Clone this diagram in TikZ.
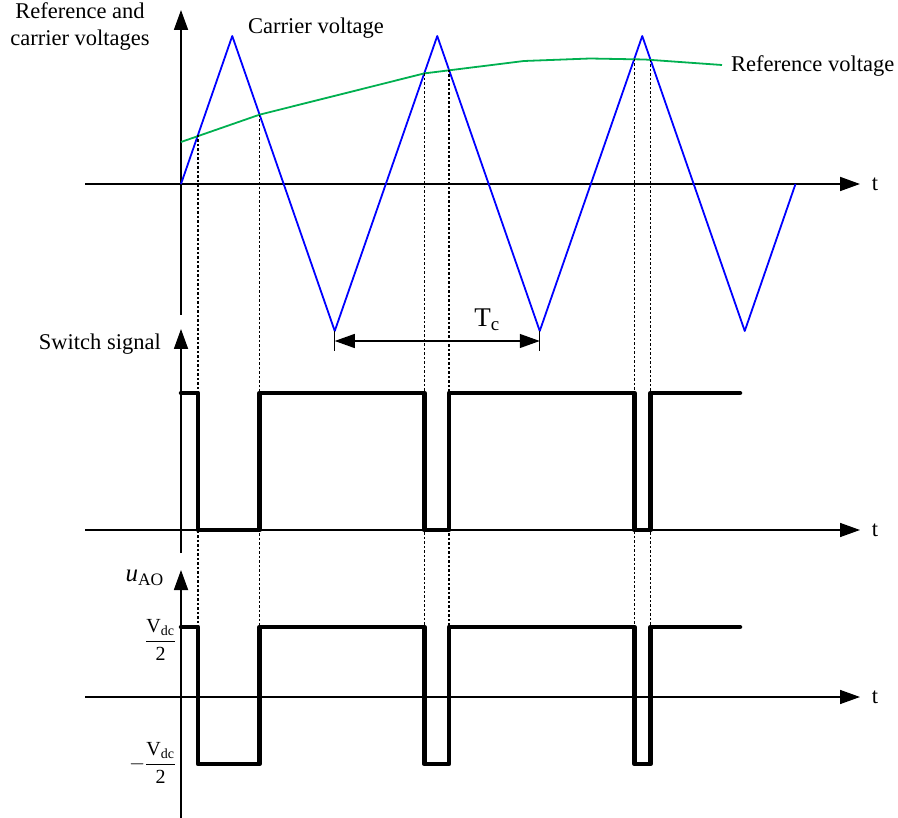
\documentclass[tikz,border=0pt]{standalone}
\usepackage{amsmath}
\usepackage{fontspec}
\setmainfont{Liberation Serif}
\usetikzlibrary{arrows.meta}
\definecolor{carrierblue}{HTML}{0000FF}
\definecolor{refgreen}{HTML}{00B050}
% switching instants: x / carrier value at that x
\def\switches{198/134.9, 259.5/114.7, 424.3/73.4, 449/69.9, 634.5/59.0, 650.5/59.8}

\begin{document}
\begin{tikzpicture}[x=1pt, y=-1pt, line join=round,
  lbl/.style={font=\fontsize{22.5}{27}\selectfont, inner sep=0pt},
  axis/.style={line width=1.8pt, -{Triangle[length=20pt, width=14pt]}},
  carrier/.style={carrierblue, line width=1.8pt},
  refline/.style={refgreen, line width=1.8pt},
  guide/.style={line width=1.5pt, dash pattern=on 2.5pt off 2pt},
  pulse/.style={line width=4.5pt, line cap=round}]
\useasboundingbox (0,0) rectangle (898,818);

% ---------------- axes ----------------
\draw[axis] (85,184) -- (860,184);
\draw[axis] (181,315) -- (181,10);
\draw[axis, line width=1.5pt] (85,530) -- (860,530);
\draw[axis] (181,553) -- (181,329);
\draw[axis, line width=1.5pt] (85,697) -- (860,697);
\draw[axis] (181,818) -- (181,570);

% ---------------- carrier and reference ----------------
\draw[carrier] (181,184) -- (232.25,36) -- (334.75,331) -- (437.25,36) -- (539.75,331)
  -- (642.25,36) -- (744.75,331) -- (795.5,184);
\draw[refline] (181,142) -- (259.5,114.7) -- (424.3,73.4) -- (524,61) -- (590,58.5)
  -- (645,59.5) -- (722,65);

% ---------------- dotted guides ----------------
\foreach \sx/\sy in \switches
  \draw[guide] (\sx,\sy) -- (\sx,627);

% ---------------- switch signal and output voltage ----------------
\foreach \hy in {393,627}
  \draw[pulse] (181,\hy) -- (198,\hy) -- ++(0,137) -- (259.5,\hy+137) -- (259.5,\hy)
    -- (424.3,\hy) -- ++(0,137) -- (449,\hy+137) -- (449,\hy)
    -- (634.5,\hy) -- ++(0,137) -- (650.5,\hy+137) -- (650.5,\hy) -- (740,\hy);

% ---------------- carrier period ----------------
\coordinate (tcL) at (334.75,341);
\coordinate (tcR) at (539.75,341);
\draw[line width=1.3pt] (334.75,331) -- (334.75,351);
\draw[line width=1.3pt] (539.75,331) -- (539.75,351);
\draw[line width=1.3pt, {Triangle[length=20pt, width=14pt]}-{Triangle[length=20pt, width=14pt]}] (tcL) -- (tcR);
\node[lbl, font=\fontsize{27}{30}\selectfont] (tc) at (487,320) {T\textsubscript{c}};

% ---------------- labels ----------------
\node[lbl, align=center] (refcar) at (80,27) {Reference and\\carrier voltages};
\node[lbl] (carlbl) at (316,28) {Carrier voltage};
\node[lbl, anchor=west] (reflbl) at (731,66) {Reference voltage};
\node[lbl] (t1) at (875,184) {t};
\node[lbl] (t2) at (875,530) {t};
\node[lbl] (t3) at (875,697) {t};
\node[lbl, anchor=east] (swlbl) at (161,344) {Switch signal};
\node[lbl, anchor=east, font=\fontsize{25}{28}\selectfont] (ulbl) at (164,578) {\textit{u}\textsubscript{AO}};
\node[lbl, anchor=east, font=\fontsize{20}{24}\selectfont] (vpos) at (176,640) {$\dfrac{\text{V}_{\text{dc}}}{\text{2}}$};
\node[lbl, anchor=east, font=\fontsize{20}{24}\selectfont] (vneg) at (176,763) {$-\dfrac{\text{V}_{\text{dc}}}{\text{2}}$};
\end{tikzpicture}
\end{document}
